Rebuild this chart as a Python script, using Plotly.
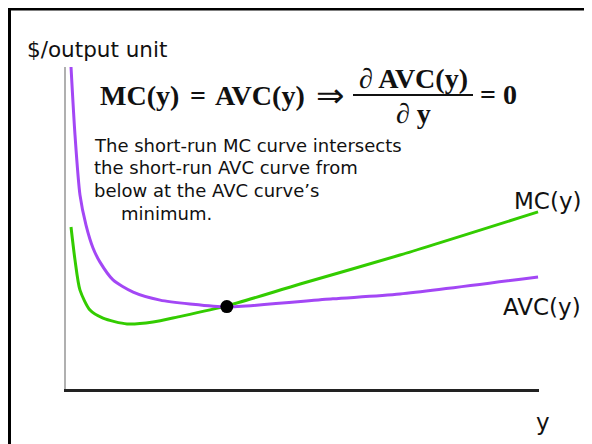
import plotly.graph_objects as go

# Data (output y on x-axis, $/output unit on y-axis; arbitrary units 0..100)
mc_x = [1.06, 1.90, 2.96, 5.07, 7.82, 12.9, 18.4, 23.7, 34.0, 49.5, 70.6, 99.8]
mc_y = [50.3, 40.1, 30.7, 24.5, 22.0, 20.2, 20.8, 22.4, 25.8, 32.6, 41.6, 55.0]

avc_x = [1.06, 1.90, 2.96, 4.23, 5.71, 7.19, 9.94, 14.2, 19.9, 26.2, 34.0, 56.4, 70.6, 99.8]
avc_y = [100.0, 78.9, 60.2, 50.9, 43.8, 39.4, 33.9, 30.1, 27.6, 26.4, 25.5, 28.0, 29.5, 34.8]

min_x = [34.0]
min_y = [25.6]

OFF = 8  # page body margin
W, H = 592 - OFF, 444 - OFF
L, R, T, B = 66, 539, 67, 389  # plot area in page pixels


def px(x):
    return (x - L) / (R - L)


def py(y):
    return (B - y) / (B - T)


fig = go.Figure()
fig.add_trace(go.Scatter(x=mc_x, y=mc_y, mode="lines",
                         line=dict(color="#33cc00", width=3, shape="spline", smoothing=0.7),
                         name="MC(y)", hoverinfo="skip"))
fig.add_trace(go.Scatter(x=avc_x, y=avc_y, mode="lines",
                         line=dict(color="#a347f5", width=3, shape="spline", smoothing=0.7),
                         name="AVC(y)", hoverinfo="skip"))
fig.add_trace(go.Scatter(x=min_x, y=min_y, mode="markers", marker=dict(color="black", size=13),
                         hoverinfo="skip", cliponaxis=False))

body = dict(family="DejaVu Sans", size=18, color="#111")
lab = dict(family="DejaVu Sans", size=23, color="#111")
eq = dict(family="Liberation Serif", size=28, color="#111")
arrow = dict(family="DejaVu Sans", size=34, color="#111")

ann = []


def add(text, x, y, font, xanchor="left", yanchor="middle"):
    ann.append(dict(text=text, x=px(x), y=py(y), xref="paper", yref="paper", showarrow=False,
                    font=font, xanchor=xanchor, yanchor=yanchor))


add("$/output unit", 25, 50, dict(family="DejaVu Sans", size=21.5, color="#111"))
add("<b>MC(y)</b>", 98, 95, eq)
add("<b>=</b>", 198, 95, eq, xanchor="center")
add("<b>AVC(y)</b>", 213, 95, eq)
add("⇒", 330, 95, arrow, xanchor="center")
add("<b>∂ AVC(y)</b>", 413, 79, eq, xanchor="center")
add("<b>∂ y</b>", 413, 113, eq, xanchor="center")
add("<b>= 0</b>", 478, 94, eq)
add("The short-run MC curve intersects", 92, 145, body)
add("the short-run AVC curve from", 92, 167, body)
add("below at the AVC curve’s", 92, 190, body)
add("minimum.", 119, 213, body)
add("MC(y)", 547, 201, lab, xanchor="center")
add("AVC(y)", 542, 307, lab, xanchor="center")
add("y", 543, 422, lab, xanchor="center")

shapes = [
    dict(type="line", xref="paper", yref="paper", x0=px(353), x1=px(473), y0=py(95), y1=py(95),
         line=dict(color="#111", width=2)),
    dict(type="rect", xref="paper", yref="paper", x0=px(9.5), x1=px(640), y0=py(9), y1=py(480),
         line=dict(color="black", width=3), fillcolor="rgba(0,0,0,0)"),
]

fig.update_layout(
    width=W, height=H, margin=dict(l=L - OFF, r=592 - R, t=T - OFF, b=444 - B),
    paper_bgcolor="white", plot_bgcolor="white", showlegend=False,
    annotations=ann, shapes=shapes,
    xaxis=dict(range=[0, 100], showgrid=False, zeroline=False, showticklabels=False, ticks="",
               showline=True, linecolor="#222", linewidth=3),
    yaxis=dict(range=[0, 100], showgrid=False, zeroline=False, showticklabels=False, ticks="",
               showline=True, linecolor="#b0b0b0", linewidth=2),
)

fig.write_html("out.html")
